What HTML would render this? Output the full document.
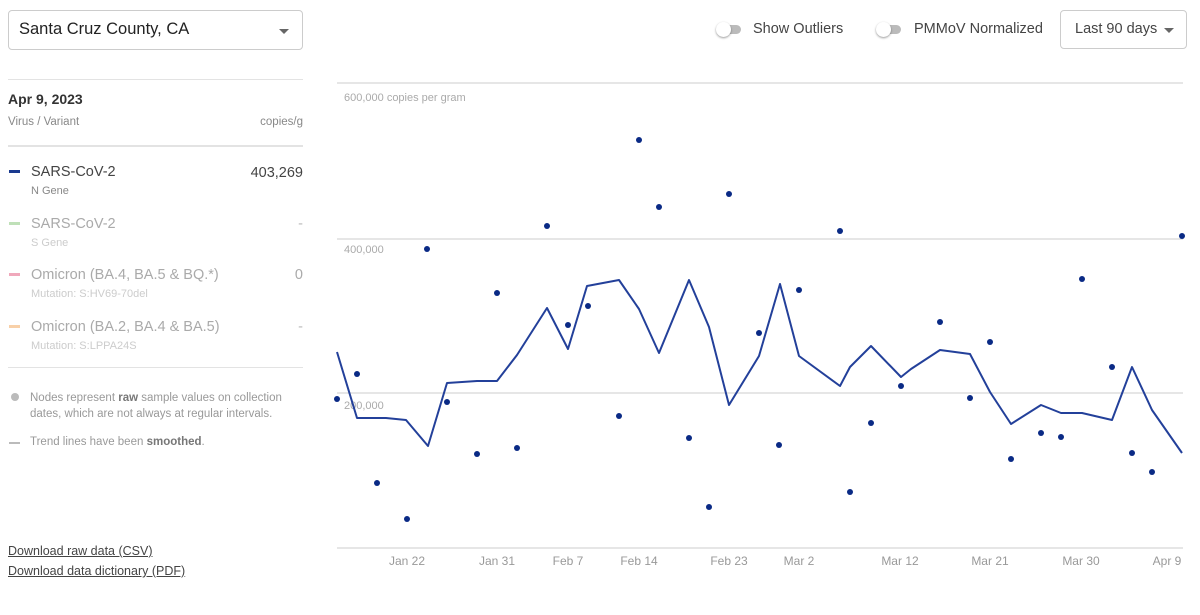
<!DOCTYPE html>
<html><head><meta charset="utf-8"><style>
body{margin:0;width:1200px;height:615px;background:#fff;font-family:"Liberation Sans",sans-serif;position:relative;overflow:hidden;color:#333}
.a{position:absolute;white-space:nowrap}
.sel{position:absolute;border:1px solid #ccc;border-radius:4px;box-sizing:border-box}
.tri{position:absolute;width:0;height:0;border-left:5px solid transparent;border-right:5px solid transparent;border-top:5px solid #666}
.hr{position:absolute;left:8px;width:295px;height:1px;background:#e3e3e3}
.tg{position:absolute;width:22px;height:9px;border-radius:5px;background:#bbb}
.tg i{position:absolute;left:-3px;top:-3px;width:15px;height:15px;border-radius:50%;background:#fff;box-shadow:0 1px 2px rgba(0,0,0,.4)}
.sw{position:absolute;left:9px;width:11px;height:3px}
</style></head><body>
<div class="sel" style="left:8px;top:10px;width:295px;height:40px"></div>
<div class="a" style="left:19px;top:20px;font-size:16.5px;color:#222">Santa Cruz County, CA</div>
<div class="tri" style="left:279px;top:29px"></div>

<div class="tg" style="left:719px;top:25px"><i></i></div>
<div class="a" style="left:753px;top:21px;font-size:14.5px;color:#444">Show Outliers</div>
<div class="tg" style="left:879px;top:25px"><i></i></div>
<div class="a" style="left:914px;top:21px;font-size:14.5px;color:#444">PMMoV Normalized</div>
<div class="sel" style="left:1060px;top:10px;width:127px;height:39px"></div>
<div class="a" style="left:1075px;top:21px;font-size:14.5px;color:#444">Last 90 days</div>
<div class="tri" style="left:1164px;top:28px"></div>

<div class="hr" style="top:79px"></div>
<div class="a" style="left:8px;top:91px;font-size:14px;font-weight:bold;color:#333">Apr 9, 2023</div>
<div class="a" style="left:8px;top:116px;font-size:11.5px;color:#888">Virus / Variant</div>
<div class="a" style="right:897px;top:116px;font-size:11.5px;color:#888">copies/g</div>
<div class="hr" style="top:145px;height:2px"></div>

<div class="sw" style="top:170px;background:#1a3a8f"></div>
<div class="a" style="left:31px;top:164px;font-size:14.5px;color:#444">SARS-CoV-2</div>
<div class="a" style="left:31px;top:185px;font-size:11px;color:#888">N Gene</div>
<div class="a" style="right:897px;top:165px;font-size:14.5px;color:#444">403,269</div>

<div class="sw" style="top:222px;background:#bfe0b8"></div>
<div class="a" style="left:31px;top:216px;font-size:14.5px;color:#aaa">SARS-CoV-2</div>
<div class="a" style="left:31px;top:237px;font-size:11px;color:#ccc">S Gene</div>
<div class="a" style="right:897px;top:216px;font-size:14.5px;color:#bbb">-</div>

<div class="sw" style="top:273px;background:#f0a8bb"></div>
<div class="a" style="left:31px;top:267px;font-size:14.5px;color:#aaa">Omicron (BA.4, BA.5 &amp; BQ.*)</div>
<div class="a" style="left:31px;top:288px;font-size:11px;color:#ccc">Mutation: S:HV69-70del</div>
<div class="a" style="right:897px;top:267px;font-size:14.5px;color:#aaa">0</div>

<div class="sw" style="top:325px;background:#f8d0a8"></div>
<div class="a" style="left:31px;top:319px;font-size:14.5px;color:#aaa">Omicron (BA.2, BA.4 &amp; BA.5)</div>
<div class="a" style="left:31px;top:340px;font-size:11px;color:#ccc">Mutation: S:LPPA24S</div>
<div class="a" style="right:897px;top:319px;font-size:14.5px;color:#bbb">-</div>

<div class="hr" style="top:367px"></div>
<div class="a" style="left:11px;top:393px;width:8px;height:8px;border-radius:50%;background:#bbb"></div>
<div class="a" style="left:30px;top:390px;font-size:11.5px;color:#999;line-height:16px">Nodes represent <b style="color:#777">raw</b> sample values on collection<br>dates, which are not always at regular intervals.</div>
<div class="a" style="left:9px;top:442px;width:11px;height:2px;background:#bbb"></div>
<div class="a" style="left:30px;top:436px;font-size:11.5px;color:#999">Trend lines have been <b style="color:#777">smoothed</b>.</div>

<div class="a" style="left:8px;top:544px;font-size:12.5px;color:#444;text-decoration:underline">Download raw data (CSV)</div>
<div class="a" style="left:8px;top:564px;font-size:12.5px;color:#444;text-decoration:underline">Download data dictionary (PDF)</div>

<svg class="a" style="left:0;top:0" width="1200" height="615">
<g stroke="#e6e6e6" stroke-width="2">
<line x1="337" y1="83" x2="1183" y2="83"/><line x1="337" y1="239" x2="1183" y2="239"/>
<line x1="337" y1="393" x2="1183" y2="393"/><line x1="337" y1="548" x2="1183" y2="548"/>
</g>
<g font-family="Liberation Sans" font-size="11" fill="#aaa">
<text x="344" y="101">600,000 copies per gram</text>
<text x="344" y="253">400,000</text>
<text x="344" y="409">200,000</text>
</g>
<g font-family="Liberation Sans" font-size="12" fill="#999" text-anchor="middle">
<text x="407" y="565">Jan 22</text><text x="497" y="565">Jan 31</text><text x="568" y="565">Feb 7</text>
<text x="639" y="565">Feb 14</text><text x="729" y="565">Feb 23</text><text x="799" y="565">Mar 2</text>
<text x="900" y="565">Mar 12</text><text x="990" y="565">Mar 21</text><text x="1081" y="565">Mar 30</text>
<text x="1167" y="565">Apr 9</text>
</g>
<polyline fill="none" stroke="#23409a" stroke-width="2" stroke-linejoin="round" points="337,352 357,418 386,418 406,420 428,446 447,383 477,381 497,381 517,355 547,308 568,349 587,286 619,280 639,309 659,353 689,280 709,327 729,405 759,356 780,284 799,356 840,386 850,367 871,346 901,377 911,369 940,350 970,354 990,392 1011,424 1041,405 1061,413 1082,413 1112,420 1132,367 1152,410 1182,453"/>
<g fill="#0a2a85">
<circle cx="337" cy="399" r="3"/><circle cx="357" cy="374" r="3"/><circle cx="377" cy="483" r="3"/><circle cx="407" cy="519" r="3"/><circle cx="427" cy="249" r="3"/><circle cx="447" cy="402" r="3"/><circle cx="477" cy="454" r="3"/><circle cx="497" cy="293" r="3"/><circle cx="517" cy="448" r="3"/><circle cx="547" cy="226" r="3"/><circle cx="568" cy="325" r="3"/><circle cx="588" cy="306" r="3"/><circle cx="619" cy="416" r="3"/><circle cx="639" cy="140" r="3"/><circle cx="659" cy="207" r="3"/><circle cx="689" cy="438" r="3"/><circle cx="709" cy="507" r="3"/><circle cx="729" cy="194" r="3"/><circle cx="759" cy="333" r="3"/><circle cx="779" cy="445" r="3"/><circle cx="799" cy="290" r="3"/><circle cx="840" cy="231" r="3"/><circle cx="850" cy="492" r="3"/><circle cx="871" cy="423" r="3"/><circle cx="901" cy="386" r="3"/><circle cx="940" cy="322" r="3"/><circle cx="970" cy="398" r="3"/><circle cx="990" cy="342" r="3"/><circle cx="1011" cy="459" r="3"/><circle cx="1041" cy="433" r="3"/><circle cx="1061" cy="437" r="3"/><circle cx="1082" cy="279" r="3"/><circle cx="1112" cy="367" r="3"/><circle cx="1132" cy="453" r="3"/><circle cx="1152" cy="472" r="3"/><circle cx="1182" cy="236" r="3"/>
</g>
</svg>
</body></html>
